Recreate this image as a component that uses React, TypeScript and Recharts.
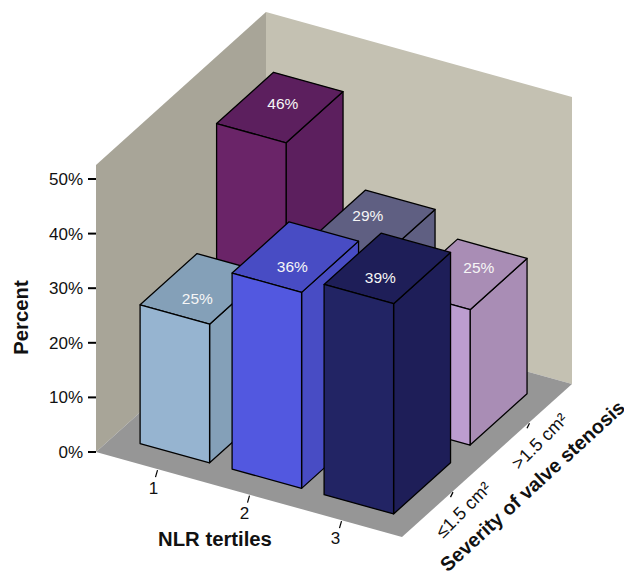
import { Bar, BarChart, XAxis, YAxis } from "recharts";

const nlrTertiles = ["1", "2", "3"];
const severityLabels = ["≤1.5 cm²", ">1.5 cm²"];
const lowSeverity = [25.4, 35.9, 38.5];
const highSeverity = [46, 29.1, 24.8];
const percentTicks = [0, 10, 20, 30, 40, 50];

const lowFront = ["#96b4d0", "#5258e0", "#222464"];
const lowSide = ["#84a0b8", "#484cc4", "#1e1e58"];
const highFront = ["#6a2468", "#66668c", "#bc9dd0"];
const highSide = ["#5c1f5e", "#5f5f82", "#a98db5"];

// hand nudges for the value labels, they don't sit in the middle of the top face
const lowNudge = [[-6, 10], [-3, 10], [-7, 10]];
const highNudge = [[3, -4], [-4, -9], [15, -6]];

const rows = nlrTertiles.map((nlr, i) => ({
  nlr,
  low: lowSeverity[i],
  high: highSeverity[i],
}));

// oblique projection: plot x/y from the scales + depth along the floor (0..1)
const PLOT_LEFT = 96;
const PLOT_BOTTOM = 452;
const PLOT_WIDTH = 306;
const SLOPE = 0.2778;
const DEPTH_X = 170;
const DEPTH_Y = -153;
const WALL = 287;
const BAR_DEPTH = 0.335;
const BAR_WIDTH = 69.5;
const LOW_ROW = 0.1035;
const HIGH_ROW = 0.5535;

function project(x: number, y: number, d: number): [number, number] {
  return [x + DEPTH_X * d, y + (x - PLOT_LEFT) * SLOPE + DEPTH_Y * d];
}

function pts(list: [number, number][]) {
  return list.map((p) => p.join(",")).join(" ");
}

function Box3D(props: any) {
  const { x, y, width, height, index, value, row, front, side, nudge } = props;
  const base = y + height;
  const r = x + width;
  const fl = project(x, base, row);
  const fr = project(r, base, row);
  const br = project(r, base, row + BAR_DEPTH);
  const tl = project(x, y, row);
  const tr = project(r, y, row);
  const tbr = project(r, y, row + BAR_DEPTH);
  const tbl = project(x, y, row + BAR_DEPTH);
  const edge = { stroke: "#000", strokeWidth: 1.3, strokeLinejoin: "round" as const };
  const n = Array.isArray(value) ? value[1] : value;
  return (
    <g>
      <polygon points={pts([fr, br, tbr, tr])} fill={side[index]} {...edge} />
      <polygon points={pts([tl, tr, tbr, tbl])} fill={side[index]} {...edge} />
      <polygon points={pts([fl, fr, tr, tl])} fill={front[index]} {...edge} />
      <text
        x={(tr[0] + tbl[0]) / 2 + nudge[index][0]}
        y={(tr[1] + tbl[1]) / 2 + nudge[index][1] + 5}
        textAnchor="middle"
        fontSize={15.5}
        fill="#f6f6f6"
      >
        {Math.round(n)}%
      </text>
    </g>
  );
}

function Room() {
  const o: [number, number] = [PLOT_LEFT, PLOT_BOTTOM];
  const a = project(PLOT_LEFT, PLOT_BOTTOM, 0);
  const b = project(PLOT_LEFT + PLOT_WIDTH, PLOT_BOTTOM, 0);
  const c = project(PLOT_LEFT + PLOT_WIDTH, PLOT_BOTTOM, 1);
  const e = project(PLOT_LEFT, PLOT_BOTTOM, 1);
  const up = (p: [number, number]): [number, number] => [p[0], p[1] - WALL];
  return (
    <g>
      <polygon points={pts([o, e, up(e), up(o)])} fill="#a8a598" />
      <polygon points={pts([e, c, up(c), up(e)])} fill="#c4c1b2" />
      <polygon points={pts([a, b, c, e])} fill="#969696" />
    </g>
  );
}

function SeverityAxis() {
  const right = PLOT_LEFT + PLOT_WIDTH;
  return (
    <g>
      {severityLabels.map((label, i) => {
        const [x, y] = project(right, PLOT_BOTTOM, 0.3 + i * 0.45);
        return (
          <g key={label}>
            <line x1={x} y1={y + 1} x2={x - 2.5} y2={y + 6} stroke="#000" strokeWidth={1.2} />
            <text
              x={x - 1}
              y={y + 12}
              textAnchor="end"
              fontSize={18}
              fill="#111"
              transform={`rotate(-45 ${x - 1} ${y + 12}) translate(38.2 19)`}
            >
              {label}
            </text>
          </g>
        );
      })}
      <text
        x={537}
        y={491}
        textAnchor="middle"
        fontSize={19.8}
        fontWeight="bold"
        fill="#111"
        transform="rotate(-42.5 537 491)"
      >
        Severity of valve stenosis
      </text>
    </g>
  );
}

function NlrTick({ x, index }: any) {
  const [tx, ty] = project(x, PLOT_BOTTOM, 0);
  return (
    <g>
      <line x1={tx} y1={ty + 1} x2={tx - 2} y2={ty + 8} stroke="#000" strokeWidth={1.2} />
      <text x={tx - 4 - index} y={ty + 25 - index * 0.8} textAnchor="middle" fontSize={17} fill="#111">
        {nlrTertiles[index]}
      </text>
    </g>
  );
}

export default function App() {
  return (
    <div style={{ position: "absolute", left: 0, top: 0, width: 624, height: 576 }}>
      <BarChart
        width={624}
        height={576}
        data={rows}
        margin={{ top: 179, right: 222, bottom: 0, left: 0 }}
        barSize={BAR_WIDTH}
        barGap={-BAR_WIDTH}
        style={{ fontFamily: "'Liberation Sans', Arial, sans-serif" }}
      >
        <Room />
        <XAxis
          dataKey="nlr"
          height={124}
          padding={{ left: 15.5, right: 14.5 }}
          axisLine={false}
          tickLine={false}
          tick={<NlrTick />}
          label={{
            value: "NLR tertiles",
            position: "insideBottom",
            offset: 30,
            dx: -34,
            style: { fontSize: 20.3, fontWeight: "bold", fill: "#111" },
          }}
        />
        <YAxis
          width={96}
          domain={[0, 50]}
          ticks={percentTicks}
          tickFormatter={(v: number) => `${v}%`}
          axisLine={false}
          tickSize={8}
          tickMargin={5}
          tickLine={{ stroke: "#000", strokeWidth: 2 }}
          tick={{ fontSize: 17, fill: "#111" }}
          label={{
            value: "Percent",
            angle: -90,
            position: "insideLeft",
            offset: 21,
            dy: 2,
            style: { fontSize: 20.3, fontWeight: "bold", fill: "#111", textAnchor: "middle" },
          }}
        />
        <Bar
          dataKey="high"
          isAnimationActive={false}
          shape={(p: any) => (
            <Box3D {...p} row={HIGH_ROW} front={highFront} side={highSide} nudge={highNudge} />
          )}
        />
        <Bar
          dataKey="low"
          isAnimationActive={false}
          shape={(p: any) => (
            <Box3D {...p} row={LOW_ROW} front={lowFront} side={lowSide} nudge={lowNudge} />
          )}
        />
        <SeverityAxis />
      </BarChart>
    </div>
  );
}
